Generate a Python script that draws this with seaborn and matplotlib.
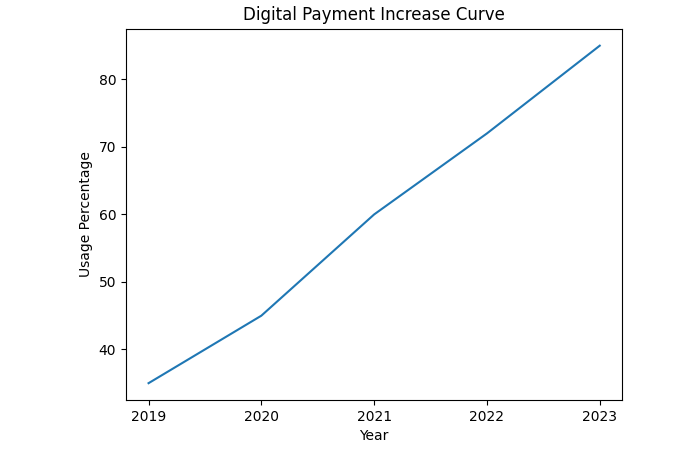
import matplotlib
matplotlib.use("Agg")
import matplotlib.pyplot as plt
import seaborn as sns
import pandas as pd

years = [2019, 2020, 2021, 2022, 2023]
usage = [35, 45, 60, 72, 85]

df = pd.DataFrame({"Year": years, "Usage Percentage": usage})
fig, ax = plt.subplots(figsize=(7, 4.5), dpi=100)
fig.subplots_adjust(left=0.18, right=0.889, top=0.936, bottom=0.111)
sns.lineplot(data=df, x="Year", y="Usage Percentage", ax=ax)
ax.set_xticks(years)
ax.set_title("Digital Payment Increase Curve")
fig.savefig("out.png")
